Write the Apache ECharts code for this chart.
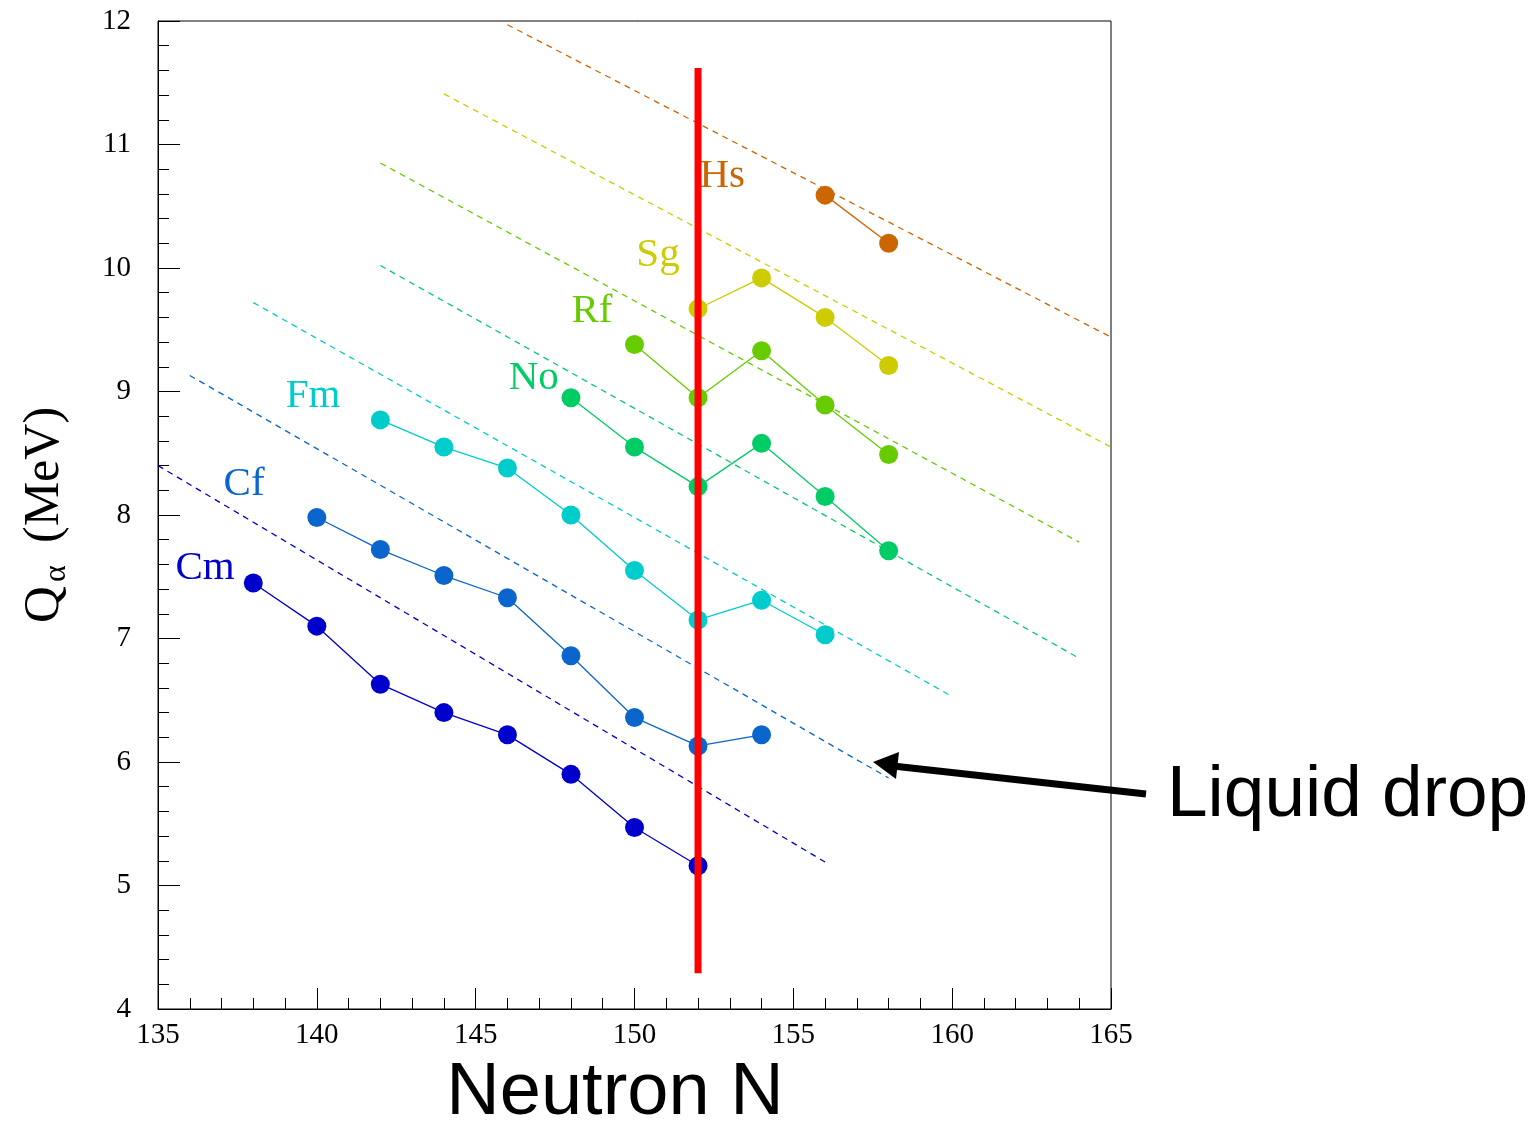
<!DOCTYPE html>
<html>
<head>
<meta charset="utf-8">
<script src="https://cdn.jsdelivr.net/npm/echarts@6/dist/echarts.min.js"></script>
<style>
html,body{margin:0;padding:0;background:#fff;}
#chart{width:1539px;height:1121px;}
</style>
</head>
<body>
<div id="chart"></div>
<script>
// ---- data ----
const elements = ['Cm','Cf','Fm','No','Rf','Sg','Hs'];
const colors   = ['#0000cc','#0a66cc','#00cccc','#00cc66','#66cc00','#cccc00','#cc6600'];

const N_Cm = [138,140,142,144,146,148,150,152];
const Q_Cm = [7.45,7.10,6.63,6.40,6.22,5.90,5.47,5.16];
const N_Cf = [140,142,144,146,148,150,152,154];
const Q_Cf = [7.98,7.72,7.51,7.33,6.86,6.36,6.13,6.22];
const N_Fm = [142,144,146,148,150,152,154,156];
const Q_Fm = [8.77,8.55,8.38,8.00,7.55,7.15,7.31,7.03];
const N_No = [148,150,152,154,156,158];
const Q_No = [8.95,8.55,8.23,8.58,8.15,7.71];
const N_Rf = [150,152,154,156,158];
const Q_Rf = [9.38,8.95,9.33,8.89,8.49];
const N_Sg = [152,154,156,158];
const Q_Sg = [9.67,9.92,9.60,9.21];
const N_Hs = [156,158];
const Q_Hs = [10.59,10.20];

// liquid drop estimates: [N_start, Q_start, N_end, Q_end]
const LD_Cm = [135,8.40,156,5.19];
const LD_Cf = [136,9.13,158,5.87];
const LD_Fm = [138,9.72,160,6.53];
const LD_No = [142,10.02,164,6.84];
const LD_Rf = [142,10.85,164,7.78];
const LD_Sg = [144,11.41,165,8.55];
const LD_Hs = [146,11.97,165,9.44];

// element label anchors (N, Q)
const LBL_N = [136.48,137.71,139.88,146.83,148.66,150.74,152.76];
const LBL_Q = [7.57,8.25,8.96,9.11,9.65,10.10,10.74];

// N = 152 shell line
const shellN = 152;
const shellQ = [4.29, 11.62];

const xTicks = [135,140,145,150,155,160,165];
const yTicks = [4,5,6,7,8,9,10,11,12];

// ---- build ----
const NS = [N_Cm,N_Cf,N_Fm,N_No,N_Rf,N_Sg,N_Hs];
const QS = [Q_Cm,Q_Cf,Q_Fm,Q_No,Q_Rf,Q_Sg,Q_Hs];
const LDS = [LD_Cm,LD_Cf,LD_Fm,LD_No,LD_Rf,LD_Sg,LD_Hs];

const SERIF = '"Liberation Serif","Times New Roman",serif';
const SANS = '"Liberation Sans",Arial,sans-serif';

const series = [];
elements.forEach((el,i)=>{
  series.push({
    type:'line', name:el+' LD',
    data:[[LDS[i][0],LDS[i][1]],[LDS[i][2],LDS[i][3]]],
    symbol:'none', silent:true, z:2,
    lineStyle:{color:colors[i], width:1.3, type:[6,5]}
  });
  series.push({
    type:'line', name:el,
    data:NS[i].map((n,k)=>[n,QS[i][k]]),
    symbol:'circle', symbolSize:19, showSymbol:true, z:3,
    lineStyle:{color:colors[i], width:1.3},
    itemStyle:{color:colors[i], borderWidth:0}
  });
  series.push({
    type:'scatter', name:el+' label',
    data:[[LBL_N[i],LBL_Q[i]]],
    symbolSize:1, itemStyle:{color:'rgba(0,0,0,0)', opacity:1}, z:4,
    label:{show:true, position:'inside', formatter:el, color:colors[i], opacity:1,
      textBorderWidth:0, fontFamily:SERIF, fontSize:41}
  });
});
series.push({
  type:'line', name:'N=152',
  data:[[shellN,shellQ[0]],[shellN,shellQ[1]]],
  symbol:'none', z:10,
  lineStyle:{color:'#ff0000', width:7, cap:'butt'}
});

const chart = echarts.init(document.getElementById('chart'), null, {renderer:'canvas'});
const option = {
  backgroundColor:'#fff',
  animation:false,
  grid:{left:158, top:21, width:953, height:988, show:true, borderColor:'#000', borderWidth:1, backgroundColor:'transparent'},
  xAxis:{
    type:'value', min:135, max:165, interval:5,
    axisLine:{lineStyle:{color:'#000', width:1}},
    axisTick:{show:true, inside:true, length:21, lineStyle:{color:'#000', width:1}},
    minorTick:{show:true, splitNumber:5, length:11, lineStyle:{color:'#000', width:1}},
    splitLine:{show:false},
    axisLabel:{color:'#000', fontFamily:SERIF, fontSize:29, margin:12,
      formatter:v=>xTicks.includes(v)?String(v):''}
  },
  yAxis:{
    type:'value', min:4, max:12, interval:1,
    axisLine:{lineStyle:{color:'#000', width:1}},
    axisTick:{show:true, inside:true, length:22, lineStyle:{color:'#000', width:1}},
    minorTick:{show:true, splitNumber:5, length:11, lineStyle:{color:'#000', width:1}},
    splitLine:{show:false},
    axisLabel:{color:'#000', fontFamily:SERIF, fontSize:29, margin:27,
      formatter:v=>yTicks.includes(v)?String(v):''}
  },
  series:series,
  graphic:[
    {
      type:'text', z:20,
      x:615, y:1094,
      style:{text:'Neutron N', font:'74px '+SANS, fill:'#000', textAlign:'center', textVerticalAlign:'middle'}
    },
    {
      type:'text', z:20,
      x:1167, y:796,
      style:{text:'Liquid drop', font:'73px '+SANS, fill:'#000', textAlign:'left', textVerticalAlign:'middle'}
    },
    {
      type:'group', x:62, y:623, rotation:Math.PI/2, z:20,
      children:[
        {type:'text', x:0, y:-17, style:{text:'Q', font:'51px '+SERIF, fill:'#000', textAlign:'left', textVerticalAlign:'middle'}},
        {type:'text', x:41, y:-5, style:{text:'α', font:'32px '+SERIF, fill:'#000', textAlign:'left', textVerticalAlign:'middle'}},
        {type:'text', x:80, y:-17, style:{text:'(MeV)', font:'50px '+SERIF, fill:'#000', textAlign:'left', textVerticalAlign:'middle'}}
      ]
    },
    {
      type:'polyline', z:20,
      shape:{points:[[1146,794],[893,766]]},
      style:{stroke:'#000', lineWidth:7, fill:null}
    },
    {
      type:'polygon', z:20,
      shape:{points:[[873,762],[899,752],[896,779]]},
      style:{fill:'#000'}
    }
  ]
};
chart.setOption(option);
</script>
</body>
</html>
